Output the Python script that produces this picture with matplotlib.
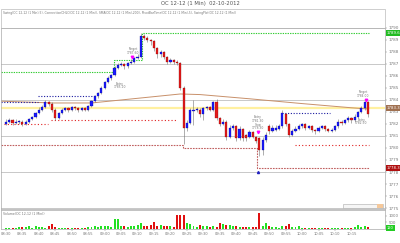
import matplotlib
matplotlib.use("Agg")
import matplotlib.pyplot as plt
import numpy as np

# OC 12-12, 1 minute bars
opens = [1782.0,1782.2,1782.3,1782.1,1782.2,1782.2,1782.0,1782.2,1782.4,1782.6,
 1782.9,1783.2,1783.4,1783.8,1783.7,1783.2,1782.5,1782.9,1783.2,1783.3,
 1783.2,1783.4,1783.3,1783.2,1783.3,1783.2,1783.5,1783.9,1784.3,1784.6,
 1785.0,1785.5,1785.8,1786.1,1786.7,1786.9,1787.0,1786.8,1787.1,1787.2,
 1787.5,1787.6,1789.3,1789.2,1789.0,1788.9,1788.3,1787.8,1788.0,1787.6,
 1787.2,1787.3,1787.2,1787.1,1785.0,1781.7,1782.1,1783.1,1783.2,1783.2,
 1782.8,1783.3,1783.4,1783.2,1783.8,1782.5,1782.0,1782.2,1780.9,1781.7,
 1781.8,1780.8,1781.6,1781.1,1780.9,1781.3,1780.9,1780.8,1779.8,1780.7,
 1781.8,1781.4,1781.5,1781.6,1781.8,1782.8,1782.0,1781.1,1781.4,1781.6,
 1781.8,1782.0,1781.7,1781.8,1781.5,1781.4,1781.7,1781.8,1781.6,1781.4,
 1781.5,1781.8,1782.2,1782.1,1782.3,1782.5,1782.3,1782.6,1783.0,1783.3,
 1783.8]
closes = [1782.2,1782.3,1782.1,1782.2,1782.2,1782.0,1782.2,1782.4,1782.6,1782.9,
 1783.2,1783.4,1783.8,1783.7,1783.2,1782.5,1782.9,1783.2,1783.3,1783.2,
 1783.4,1783.3,1783.2,1783.3,1783.2,1783.5,1783.9,1784.3,1784.6,1785.0,
 1785.5,1785.8,1786.1,1786.7,1786.9,1787.0,1786.8,1787.1,1787.2,1787.5,
 1787.6,1789.3,1789.2,1789.0,1788.9,1788.3,1787.8,1788.0,1787.6,1787.2,
 1787.3,1787.2,1787.1,1785.0,1781.7,1782.1,1783.2,1783.2,1783.2,1782.8,
 1783.3,1783.4,1783.2,1783.8,1782.5,1782.0,1782.2,1780.9,1781.7,1781.8,
 1780.8,1781.6,1780.8,1780.8,1781.3,1780.9,1780.6,1779.8,1780.7,1781.1,
 1781.4,1781.7,1781.7,1781.8,1782.9,1782.0,1781.1,1781.4,1781.6,1781.8,
 1782.0,1781.7,1781.8,1781.5,1781.4,1781.7,1781.8,1781.6,1781.4,1781.5,
 1781.8,1782.2,1782.1,1782.3,1782.5,1782.3,1782.6,1783.0,1783.3,1783.8,
 1782.8]
highs = [1782.4,1782.5,1782.4,1782.4,1782.3,1782.3,1782.3,1782.5,1782.7,1783.0,
 1783.4,1783.6,1784.0,1783.9,1783.8,1783.3,1783.0,1783.3,1783.4,1783.4,
 1783.5,1783.5,1783.4,1783.4,1783.4,1783.6,1784.0,1784.4,1784.7,1785.2,
 1785.6,1786.0,1786.2,1786.8,1787.1,1787.2,1787.1,1787.2,1787.4,1787.6,
 1787.8,1789.6,1789.5,1789.3,1789.1,1789.0,1788.4,1788.2,1788.1,1787.7,
 1787.5,1787.4,1787.3,1787.2,1785.2,1782.3,1783.3,1784.0,1783.4,1783.3,
 1783.4,1783.5,1783.5,1783.9,1784.1,1782.6,1782.4,1782.3,1781.9,1782.0,
 1781.9,1781.8,1781.7,1781.2,1781.5,1781.4,1781.0,1780.9,1780.9,1781.3,
 1782.0,1781.9,1781.9,1782.0,1783.2,1782.9,1782.1,1781.6,1781.8,1782.0,
 1782.1,1782.1,1781.9,1781.9,1781.6,1781.8,1781.9,1781.9,1781.7,1781.7,
 1781.9,1782.4,1782.3,1782.4,1782.7,1782.6,1782.8,1783.1,1783.5,1783.9,
 1783.9]
lows = [1781.9,1782.1,1781.9,1782.0,1782.0,1781.8,1781.9,1782.1,1782.3,1782.5,
 1782.8,1783.1,1783.3,1783.5,1783.0,1782.3,1782.4,1782.8,1783.1,1783.0,
 1783.1,1783.2,1783.0,1783.1,1783.1,1783.1,1783.4,1783.8,1784.2,1784.5,
 1784.9,1785.4,1785.7,1786.0,1786.6,1786.8,1786.6,1786.7,1787.0,1787.1,
 1787.4,1787.5,1789.0,1788.8,1788.6,1788.1,1787.5,1787.6,1787.4,1787.0,
 1787.1,1787.0,1786.9,1784.8,1780.3,1781.4,1782.0,1781.9,1783.0,1782.6,
 1782.3,1783.2,1783.1,1783.1,1782.3,1781.8,1781.9,1780.7,1780.8,1781.5,
 1780.6,1780.7,1780.6,1780.6,1780.8,1780.8,1780.4,1779.3,1779.4,1780.5,
 1781.2,1781.3,1781.4,1781.5,1781.7,1781.8,1780.9,1781.0,1781.3,1781.5,
 1781.7,1781.5,1781.6,1781.3,1781.2,1781.3,1781.6,1781.4,1781.3,1781.3,
 1781.4,1781.7,1781.9,1782.0,1782.2,1782.1,1782.2,1782.5,1782.9,1783.2,
 1782.6]
volume = [60,80,60,100,120,150,150,220,100,200,
 180,150,100,200,380,150,100,90,60,80,
 60,50,70,90,100,150,180,200,180,250,
 220,200,150,750,780,200,220,180,200,250,
 300,450,250,220,300,550,250,300,250,200,
 220,150,1050,1050,1050,450,380,200,180,300,
 220,250,150,220,120,450,380,300,300,250,
 220,180,180,150,150,130,120,1200,250,450,
 200,150,150,80,220,250,380,130,150,220,
 100,80,80,80,60,80,70,60,60,60,
 100,80,70,80,100,60,150,300,180,220,
 120]
times = ["08:30","08:35","08:40","08:45","08:50","08:55","09:00","09:05","09:10","09:15","09:20",
         "09:25","09:30","09:35","09:40","09:45","09:50","09:55","10:00","10:05","10:10","10:15"]

# SMA(200) sampled along the bars
sma_bar = [-1.5, 14, 26, 35, 44, 53, 59, 74, 90, 105, 110]
sma_val = [1783.9, 1783.75, 1783.75, 1784.0, 1784.25, 1784.5, 1784.45, 1784.1, 1783.7, 1783.35, 1783.25]

# swing levels (bar index, price)
green_bar = [-1.5, 32.7, 32.7, 41.2, 41.2, 110.2]
green_px = [1786.3, 1786.3, 1787.3, 1787.3, 1789.6, 1789.6]
blue_lv = [(-1.5, 9.7, 1783.8), (9.7, 27.3, 1784.3), (84, 98.5, 1782.9)]
red_lv = [(-0.6, 12.7, 1782.0), (13.6, 52, 1782.3), (87.9, 110.2, 1780.25)]
stop_bar = [-1.5, 53.9, 53.9, 76.4, 76.4, 110.2]
stop_px = [1780.25, 1780.25, 1780.0, 1780.0, 1778.3, 1778.3]
mid_level = 1783.3
grid_levels = [1775, 1778, 1781, 1784, 1787, 1790]

notes = [(38.5, 1788.1, "Target\n1787.60"), (34.5, 1785.2, "Entry\n1785.10"),
         (76.5, 1782.1, "Entry\n1781.30\nStop\n1778.30"),
         (108.5, 1784.5, "Target\n1784.00"), (108.0, 1782.2, "Entry\n1782.50")]
arrow_bar = [38.2, 76.7, 109.4]
arrow_px = [1787.6, 1781.3, 1784.0]

O = np.array(opens); C = np.array(closes); H = np.array(highs); L = np.array(lows)
idx = np.arange(len(C))
up = C >= O

fig = plt.figure(figsize=(4, 2.43), dpi=100)
ax = fig.add_axes([0.0025, 0.14, 0.96, 0.745])
axv = fig.add_axes([0.0025, 0.0576, 0.96, 0.078], sharex=ax)

for g in grid_levels:
    ax.axhline(g, color="#c8c8c8", lw=0.7, zorder=0)
ax.axhline(mid_level, color="#fff0a0", lw=1.6, zorder=1)
ax.plot(sma_bar, sma_val, color="#c8906a", lw=0.7, zorder=2)

ax.plot(green_bar, green_px, color="#33cc33", lw=0.8, ls=(0, (1.2, 1)), zorder=2)
for a, b, p in blue_lv:
    ax.plot([a, b], [p, p], color="#1a1aa0", lw=0.8, ls=(0, (1, 1.5)), zorder=2)
for a, b, p in red_lv:
    ax.plot([a, b], [p, p], color="#e02020", lw=0.8, ls=(0, (1, 2)), zorder=2)
ax.plot(stop_bar, stop_px, color="#c06060", lw=0.8, ls=(0, (1.5, 1)), zorder=2)

ax.vlines(idx, L, H, color="#707070", lw=0.4, zorder=3)
body = np.maximum(np.abs(C - O), 0.04)
bot = np.minimum(O, C)
ax.bar(idx[up], body[up], bottom=bot[up], width=0.65, color="#1a1aff", edgecolor="#00007a", lw=0.2, zorder=4)
ax.bar(idx[~up], body[~up], bottom=bot[~up], width=0.65, color="#e31b1b", edgecolor="#7a0000", lw=0.2, zorder=4)

ax.plot(arrow_bar, arrow_px, "v", color="magenta", ms=1.8, zorder=5)
ax.plot([76.7], [1778.0], "^", color="#2020c0", ms=1.5, zorder=5)
for x, y, s in notes:
    ax.text(x, y, s, fontsize=2.2, color="#777777", ha="center", va="center", linespacing=0.9, zorder=6)

ax.set_xlim(-1.5, 115.2)
ax.set_ylim(1774.92, 1790.0)
ax.yaxis.tick_right()
ax.set_yticks(range(1775, 1791))
ax.tick_params(axis="y", labelsize=3, colors="#777777", length=1.5, width=0.3, pad=1)
ax.tick_params(axis="x", bottom=False, labelbottom=False)
for sp in ax.spines.values():
    sp.set_color("#aaaaaa"); sp.set_linewidth(0.5)

# price tags on the axis
for p, fc in [(1789.6, "#22bb22"), (1783.3, "#a07050"), (1778.3, "#b01010")]:
    ax.text(1.005, (p - 1774.92) / 15.08, "%.1f" % p, transform=ax.transAxes, fontsize=2.8,
            color="white", ha="left", va="center",
            bbox=dict(boxstyle="square,pad=0.25", fc=fc, ec="none"), clip_on=False)

# little scroll bar
ax.add_patch(plt.Rectangle((0.89, 0.005), 0.105, 0.022, transform=ax.transAxes,
                           fc="#f6f6f6", ec="#aaaaaa", lw=0.4, zorder=6))
ax.add_patch(plt.Rectangle((0.978, 0.005), 0.017, 0.022, transform=ax.transAxes,
                           fc="#f5c89a", ec="none", zorder=7))

vcol = np.where(up, "#22e022", "#e01010")
axv.bar(idx, volume, width=0.6, color=vcol)
axv.set_ylim(0, 1425)
axv.yaxis.tick_right()
axv.set_yticks([500, 1000])
axv.set_xticks(idx[:110:5])
axv.set_xticklabels(times)
axv.tick_params(axis="y", labelsize=2.8, colors="#777777", length=1.5, width=0.3, pad=1)
axv.tick_params(axis="x", labelsize=2.6, colors="#777777", length=1.2, width=0.3, pad=1)
for sp in axv.spines.values():
    sp.set_color("#aaaaaa"); sp.set_linewidth(0.5)
axv.text(0.005, 0.75, "Volume(OC 12-12 (1 Min))", transform=axv.transAxes, fontsize=2.3, color="#777777")
axv.text(1.005, 0.06, "120", transform=axv.transAxes, fontsize=2.6, color="white", va="center",
         bbox=dict(boxstyle="square,pad=0.25", fc="#22cc22", ec="none"), clip_on=False)

fig.add_artist(plt.Rectangle((0.0025, 1 - 28 / 243), 0.96, 19 / 243, transform=fig.transFigure,
                             fill=False, ec="#bbbbbb", lw=0.5))
fig.text(0.5, 1 - 4 / 243, "OC 12-12 (1 Min)  02-10-2012", ha="center", va="center", fontsize=3.8, color="#555555")
fig.text(0.008, 1 - 13 / 243,
         "Swing(OC 12-12 (1 Min),5), ConnectionOHLC(OC 12-12 (1 Min)), SMA(OC 12-12 (1 Min),200), "
         "PivotBarTime(OC 12-12 (1 Min),5), SwingPlot(OC 12-12 (1 Min))",
         fontsize=2.2, color="#777777", va="center")

plt.savefig("out.png", dpi=100)
